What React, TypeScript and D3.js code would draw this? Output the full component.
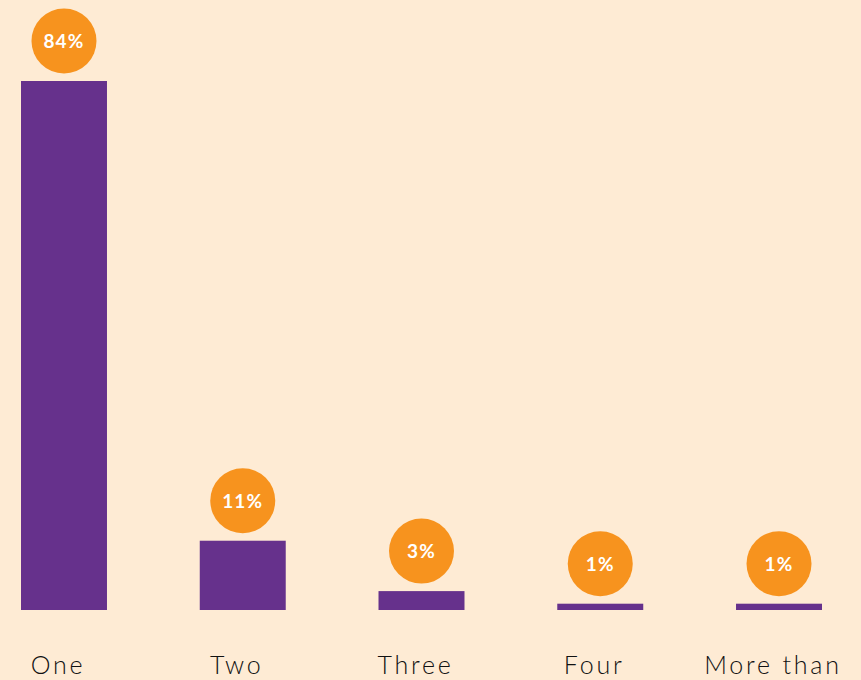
import React from "react";
import * as d3 from "d3";

const categories = ["One", "Two", "Three", "Four", "More than"];
const values = [84, 11, 3, 1, 1];
const valueLabels = ["84%", "11%", "3%", "1%", "1%"];

const W = 861;
const H = 680;
const BG = "#FEEBD4";
const PURPLE = "#66318C";
const ORANGE = "#F7931E";

export default function App() {
  const x = d3.scaleBand<string>().domain(categories).range([21, 822]).paddingInner(0.519).paddingOuter(0);
  const y = d3.scaleLinear().domain([0, 84]).range([610, 81]);
  const r = 32.5;
  return (
    <>
      <style>{`body{margin:0;background:${BG}}`}</style>
      <svg width={W} height={H} style={{ display: "block", background: BG }}>
        <rect x={0} y={0} width={W} height={H} fill={BG} />
        {categories.map((c, i) => {
          const bx = x(c) as number;
          const bw = x.bandwidth();
          const top = y(values[i]);
          const cx = bx + bw / 2;
          const cy = top - 40;
          return (
            <g key={c}>
              <rect x={bx} y={top} width={bw} height={y(0) - top} fill={PURPLE} />
              <circle cx={cx} cy={cy} r={r} fill={ORANGE} />
              <text
                x={cx}
                y={cy}
                dy="0.36em"
                textAnchor="middle"
                fill="#fff"
                fontFamily="Lato, 'Open Sans', sans-serif"
                fontWeight={700}
                fontSize={19}
                letterSpacing={1.2}
              >
                {valueLabels[i]}
              </text>
              <text
                x={cx - 6}
                y={674}
                textAnchor="middle"
                fill="#111"
                fontFamily="Lato, 'Open Sans', sans-serif"
                fontWeight={300}
                fontSize={25}
                letterSpacing={2.8}
              >
                {c}
              </text>
            </g>
          );
        })}
      </svg>
    </>
  );
}
